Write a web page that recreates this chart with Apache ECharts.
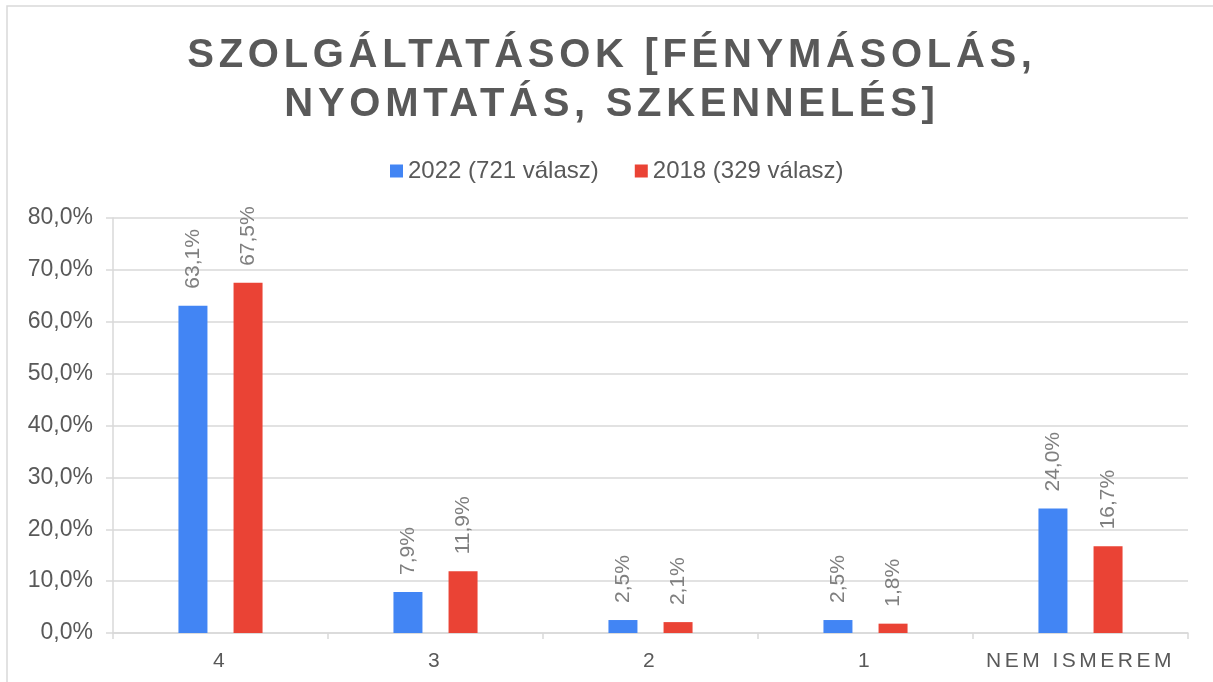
<!DOCTYPE html>
<html>
<head>
<meta charset="utf-8">
<script src="https://cdn.jsdelivr.net/npm/echarts@6/dist/echarts.min.js"></script>
<style>
  html, body { margin: 0; padding: 0; background: #fff; }
  #chart { width: 1213px; height: 682px; }
</style>
</head>
<body>
<div id="chart"></div>
<script>
const categories = ['4', '3', '2', '1', 'NEM ISMEREM'];
const values2022 = [63.1, 7.9, 2.5, 2.5, 24.0];
const values2018 = [67.5, 11.9, 2.1, 1.8, 16.7];
const seriesNames = ['2022 (721 válasz)', '2018 (329 válasz)'];

// canvas letter spacing for the title and the category labels
const pickSpacing = (font) => {
  if (font.indexOf('bold') >= 0 && font.indexOf('40px') >= 0) return '4.7px';
  if (font.indexOf('Liberation Sans') >= 0) return '3.5px';
  return '0px';
};
['fillText', 'measureText'].forEach((name) => {
  const orig = CanvasRenderingContext2D.prototype[name];
  CanvasRenderingContext2D.prototype[name] = function (...args) {
    if ('letterSpacing' in this) this.letterSpacing = pickSpacing(this.font);
    return orig.apply(this, args);
  };
});

const fmt = (v) => v.toFixed(1).replace('.', ',') + '%';

const chart = echarts.init(document.getElementById('chart'));

const dataLabel = {
  show: true,
  position: 'top',
  rotate: 90,
  align: 'left',
  verticalAlign: 'middle',
  distance: 17,
  fontSize: 21,
  fontFamily: 'Arial',
  color: '#7f7f7f',
  formatter: (p) => fmt(p.value)
};

const option = {
  backgroundColor: '#fff',
  animation: false,
  graphic: [{
    type: 'rect',
    shape: { x: 7, y: 6, width: 1230, height: 700 },
    style: { fill: 'none', stroke: '#d9d9d9', lineWidth: 1.5 },
    silent: true
  }],
  title: {
    text: 'SZOLGÁLTATÁSOK [FÉNYMÁSOLÁS,\nNYOMTATÁS, SZKENNELÉS]',
    left: 607,
    top: 26,
    textAlign: 'center',
    textStyle: {
      fontFamily: 'Liberation Sans',
      fontWeight: 'bold',
      fontSize: 40,
      lineHeight: 49,
      color: '#595959'
    }
  },
  legend: {
    data: seriesNames,
    left: 385,
    top: 154,
    icon: 'rect',
    itemWidth: 13,
    itemHeight: 13,
    itemGap: 36,
    textStyle: { fontSize: 24, fontFamily: 'Arial', color: '#595959' }
  },
  grid: { left: 113, right: 25, top: 218, bottom: 49 },
  xAxis: {
    type: 'category',
    data: categories,
    axisLine: { lineStyle: { color: '#d9d9d9', width: 1.5 } },
    axisTick: { show: true, length: 6, lineStyle: { color: '#d9d9d9', width: 1.5 } },
    axisLabel: {
      interval: 0,
      margin: 16,
      fontSize: 21,
      fontFamily: 'Liberation Sans',
      color: '#595959'
    }
  },
  yAxis: {
    type: 'value',
    min: 0,
    max: 80,
    interval: 10,
    axisLine: { show: true, lineStyle: { color: '#d9d9d9', width: 1.5 } },
    axisTick: { show: true, inside: false, length: 7, lineStyle: { color: '#d9d9d9', width: 1.5 } },
    splitLine: { lineStyle: { color: '#d9d9d9', width: 1.5 } },
    axisLabel: {
      margin: 20,
      fontSize: 23,
      fontFamily: 'Arial',
      color: '#595959',
      formatter: (v) => fmt(v)
    }
  },
  series: [
    {
      name: seriesNames[0],
      type: 'bar',
      data: values2022,
      barWidth: 29,
      barGap: '90%',
      itemStyle: { color: '#4285f4' },
      label: dataLabel
    },
    {
      name: seriesNames[1],
      type: 'bar',
      data: values2018,
      barWidth: 29,
      itemStyle: { color: '#ea4335' },
      label: dataLabel
    }
  ]
};

chart.setOption(option);
window.addEventListener('resize', () => chart.resize());
</script>
</body>
</html>
